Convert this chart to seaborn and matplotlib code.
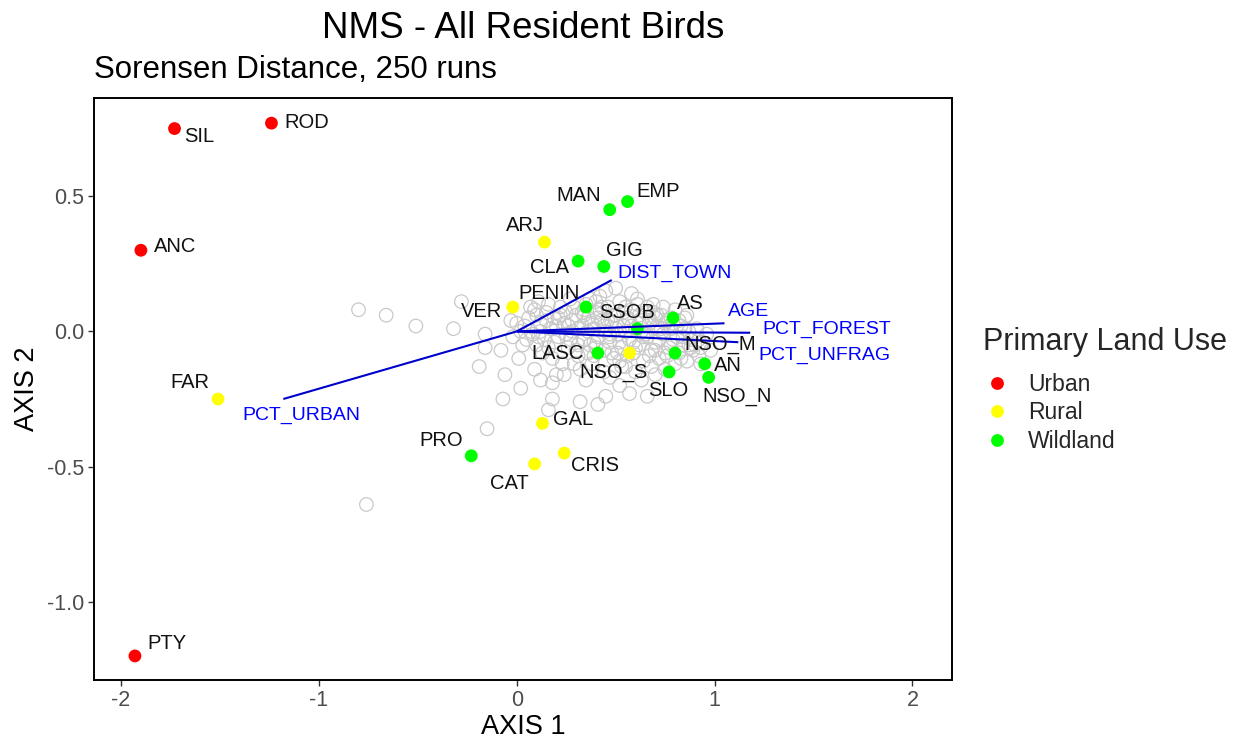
import matplotlib
matplotlib.use("Agg")
import matplotlib.pyplot as plt
import seaborn as sns
import pandas as pd

# ---- site scores (NMS axis 1 / axis 2) ----
site_names = ["SIL", "ROD", "ANC", "PTY", "FAR", "PRO", "CAT", "CRIS", "GAL",
              "ARJ", "MAN", "EMP", "CLA", "GIG", "VER", "PENIN", "SSOB", "AS",
              "LASC", "NSO_S", "NSO_M", "SLO", "AN", "NSO_N"]
site_axis1 = [-1.73, -1.24, -1.90, -1.93, -1.51, -0.23, 0.09, 0.24, 0.13,
              0.14, 0.47, 0.56, 0.31, 0.44, -0.02, 0.35, 0.61, 0.79,
              0.41, 0.57, 0.80, 0.77, 0.95, 0.97]
site_axis2 = [0.75, 0.77, 0.30, -1.20, -0.25, -0.46, -0.49, -0.45, -0.34,
              0.33, 0.45, 0.48, 0.26, 0.24, 0.09, 0.09, 0.01, 0.05,
              -0.08, -0.08, -0.08, -0.15, -0.12, -0.17]
site_landuse = ["Urban", "Urban", "Urban", "Urban", "Rural", "Wildland", "Rural", "Rural", "Rural",
                "Rural", "Wildland", "Wildland", "Wildland", "Wildland", "Rural", "Wildland", "Wildland", "Wildland",
                "Wildland", "Rural", "Wildland", "Wildland", "Wildland", "Wildland"]

# ---- species scores ----
species_axis1 = [
    -0.80, -0.66, -0.51, -0.32, -0.28, -0.16, -0.16, -0.08, -0.19, -0.06, 0.02, -0.07,
    -0.76, -0.15, 0.18, 0.16, 0.32, 0.41, 0.45, 0.18, 0.20, 0.12, 0.09, 0.57, 0.66,
    0.01, 0.03, 0.07, 0.11, 0.50, -0.03, -0.02,
    0.04, 0.08, 0.12, 0.15, 0.10, 0.14, 0.17, 0.19, 0.21, 0.22, 0.24, 0.26, 0.27, 0.28,
    0.30, 0.31, 0.33, 0.34, 0.35, 0.36, 0.37, 0.38, 0.39, 0.40, 0.41, 0.42, 0.43, 0.44,
    0.45, 0.46, 0.47, 0.48, 0.49, 0.50, 0.51, 0.52, 0.53, 0.54, 0.55, 0.56, 0.57, 0.58,
    0.59, 0.60, 0.61, 0.62, 0.63, 0.64, 0.65, 0.66, 0.67, 0.68, 0.69, 0.70, 0.71, 0.72,
    0.73, 0.74, 0.75, 0.76, 0.77, 0.78, 0.79, 0.80, 0.82, 0.83, 0.84, 0.85, 0.86, 0.87,
    0.88, 0.89, 0.91, 0.92, 0.94, 0.96,
    0.06, 0.09, 0.13, 0.16, 0.18, 0.20, 0.23, 0.25, 0.27, 0.29, 0.31, 0.32, 0.34, 0.36,
    0.38, 0.40, 0.42, 0.44, 0.46, 0.48, 0.50, 0.52, 0.54, 0.56, 0.58, 0.60, 0.62, 0.64,
    0.66, 0.68, 0.70, 0.72, 0.74, 0.76, 0.78, 0.80, 0.82, 0.84, 0.86, 0.90, 0.93, 0.98,
    0.24, 0.35, 0.47, 0.52, 0.63, 0.70, 0.58, 0.37, 0.12, 0.05, 0.02, 0.00,
    0.07, 0.11, 0.15, 0.19, 0.22, 0.25, 0.28, 0.31, 0.33, 0.36, 0.39, 0.41, 0.44, 0.47,
    0.49, 0.52, 0.55, 0.57, 0.60, 0.62, 0.65, 0.67, 0.70, 0.73, 0.75, 0.78, 0.81, 0.85,
    0.88, 0.92, 0.10, 0.16, 0.21, 0.26, 0.30, 0.34, 0.39, 0.43, 0.47, 0.51, 0.55, 0.59,
    0.63, 0.67, 0.71, 0.75, 0.79, 0.83, 0.87, 0.93, 0.29, 0.40, 0.53, 0.61, 0.69, 0.45,
]
species_axis2 = [
    0.08, 0.06, 0.02, 0.01, 0.11, -0.01, -0.06, -0.07, -0.13, -0.16, -0.21, -0.25,
    -0.64, -0.36, -0.25, -0.29, -0.26, -0.27, -0.24, -0.19, -0.16, -0.18, -0.14, -0.23, -0.24,
    -0.10, -0.05, 0.09, 0.11, 0.16, 0.04, -0.02,
    0.02, -0.01, 0.03, 0.07, -0.05, -0.03, 0.01, 0.05, -0.02, 0.09, 0.03, -0.06, 0.12, 0.00,
    0.06, -0.09, 0.02, -0.03, 0.10, 0.05, -0.05, -0.12, 0.01, 0.07, -0.02, 0.13, 0.04, -0.07,
    0.00, 0.09, -0.04, 0.03, -0.10, 0.06, -0.01, 0.11, -0.06, 0.02, -0.13, 0.05, -0.03, 0.08,
    -0.08, 0.01, 0.12, -0.05, 0.04, -0.11, 0.07, -0.02, 0.03, -0.07, 0.10, -0.04, 0.02, -0.10,
    0.06, -0.01, -0.14, 0.04, -0.06, 0.01, -0.03, 0.08, -0.08, 0.02, -0.05, 0.05, -0.11, 0.00,
    -0.03, -0.07, 0.01, -0.09, -0.04, -0.01,
    0.05, 0.08, -0.08, 0.10, -0.10, 0.02, -0.12, 0.07, -0.03, 0.09, 0.01, -0.14, 0.06, -0.08,
    0.03, -0.06, 0.08, -0.15, 0.04, -0.08, 0.01, -0.11, 0.07, -0.09, 0.02, -0.15, 0.06, -0.02,
    0.09, -0.13, 0.05, -0.03, 0.09, -0.09, 0.05, -0.12, 0.04, -0.02, 0.06, -0.05, -0.12, -0.07,
    -0.16, -0.18, -0.17, -0.20, -0.18, -0.16, 0.14, 0.12, 0.00, -0.03, 0.00, 0.03,
    0.00, -0.02, 0.04, -0.04, 0.06, -0.01, 0.04, -0.05, 0.07, 0.00, -0.04, 0.05, 0.02, -0.02,
    0.06, -0.04, 0.00, 0.04, -0.06, 0.03, -0.01, 0.05, -0.07, 0.01, 0.03, -0.05, -0.02, 0.01,
    -0.06, -0.03, 0.06, -0.06, 0.05, 0.02, -0.07, 0.08, -0.09, 0.09, -0.01, -0.08, 0.09, -0.04,
    0.00, -0.09, 0.06, -0.08, 0.03, -0.10, -0.05, -0.06, -0.12, 0.11, -0.13, 0.10, 0.07, 0.15,
]

# ---- environmental vectors (joint plot) ----
vector_names = ["DIST_TOWN", "AGE", "PCT_FOREST", "PCT_UNFRAG", "PCT_URBAN"]
vector_axis1 = [0.48, 1.05, 1.18, 1.12, -1.18]
vector_axis2 = [0.19, 0.03, -0.005, -0.04, -0.25]

landuse_levels = ["Urban", "Rural", "Wildland"]
landuse_colors = ["#FF0000", "#FFFF00", "#00FF00"]

# label placement (offset in pixels from each mark)
site_label_offsets = {
    "SIL": (25, -8), "ROD": (35, 1), "ANC": (34, 4), "PTY": (32, 12), "FAR": (-28, 17),
    "PRO": (-30, 15), "CAT": (-25, -20), "CRIS": (31, -12), "GAL": (31, 4), "ARJ": (-20, 17),
    "MAN": (-31, 14), "EMP": (31, 10), "CLA": (-29, -6), "GIG": (21, 16), "VER": (-31, -4),
    "PENIN": (-37, 14), "SSOB": (-10, 16), "AS": (17, 14), "LASC": (-40, 0),
    "NSO_S": (-16, -19), "NSO_M": (45, 9), "SLO": (-1, -19), "AN": (23, -2), "NSO_N": (28, -19),
}
vector_label_style = {
    "DIST_TOWN": ((6, 7), "left"), "AGE": ((3, 12), "left"), "PCT_FOREST": ((12, 3), "left"),
    "PCT_UNFRAG": ((20, -13), "left"), "PCT_URBAN": ((18, -16), "center"),
}

sites = pd.DataFrame({"site": site_names, "AXIS 1": site_axis1, "AXIS 2": site_axis2,
                      "Primary Land Use": site_landuse})
species = pd.DataFrame({"AXIS 1": species_axis1, "AXIS 2": species_axis2})

sns.set_theme(style="white")
plt.rcParams["font.family"] = ["Liberation Sans", "DejaVu Sans"]

fig = plt.figure(figsize=(12.36, 7.40), dpi=100)
ax = fig.add_axes([94 / 1236, 1 - 680 / 740, (952 - 94) / 1236, (680 - 98) / 740])

sns.scatterplot(data=species, x="AXIS 1", y="AXIS 2", ax=ax, s=95, marker="o",
                facecolors="none", edgecolors="#c9c9c9", linewidths=0.9, zorder=2,
                legend=False)

sns.scatterplot(data=sites, x="AXIS 1", y="AXIS 2", hue="Primary Land Use",
                hue_order=landuse_levels, palette=landuse_colors, s=85,
                linewidth=0, ax=ax, zorder=3)

for name, vx, vy in zip(vector_names, vector_axis1, vector_axis2):
    ax.plot([0, vx], [0, vy], color="#0000CD", lw=1.5, zorder=4, solid_capstyle="butt")
    off, ha = vector_label_style[name]
    ax.annotate(name, (vx, vy), xytext=off, textcoords="offset pixels",
                ha=ha, va="center", color="#0000FF", fontsize=14, zorder=5)

for name, sx, sy in zip(site_names, site_axis1, site_axis2):
    ax.annotate(name, (sx, sy), xytext=site_label_offsets[name], textcoords="offset pixels",
                ha="center", va="center", color="#111111", fontsize=14.5, zorder=5)

ax.set_xlim(-2.137, 2.2)
ax.set_ylim(-1.289, 0.863)
ax.set_xticks([-2, -1, 0, 1, 2])
ax.set_xticklabels(["-2", "-1", "0", "1", "2"])
ax.set_yticks([-1.0, -0.5, 0.0, 0.5])
ax.set_yticklabels(["-1.0", "-0.5", "0.0", "0.5"])
ax.tick_params(axis="both", which="both", direction="out", length=4, width=1,
               color="#333333", labelcolor="#4d4d4d", labelsize=15.5, pad=3,
               bottom=True, left=True)
for sp in ax.spines.values():
    sp.set_visible(True)
    sp.set_color("black")
    sp.set_linewidth(1.4)

ax.set_xlabel("AXIS 1", fontsize=19.5, color="black", labelpad=2)
ax.set_ylabel("AXIS 2", fontsize=19.5, color="black", labelpad=5)

fig.text((94 + 952) / 2 / 1236, 1 - 28 / 740, "NMS - All Resident Birds",
         ha="center", va="center", fontsize=26.5, color="black")
fig.text(94 / 1236, 1 - 70 / 740, "Sorensen Distance, 250 runs",
         ha="left", va="center", fontsize=22.5, color="black")

leg = ax.legend(title="Primary Land Use", loc="upper left",
                bbox_to_anchor=(972 / 1236, 1 - 316 / 740), bbox_transform=fig.transFigure,
                frameon=False, fontsize=16.5, title_fontsize=22, borderpad=0,
                labelspacing=0.25, handletextpad=0.8, handlelength=1.15, markerscale=1.0)
leg._legend_box.align = "left"
leg._legend_box.sep = 11

fig.savefig("out.png", dpi=100)
